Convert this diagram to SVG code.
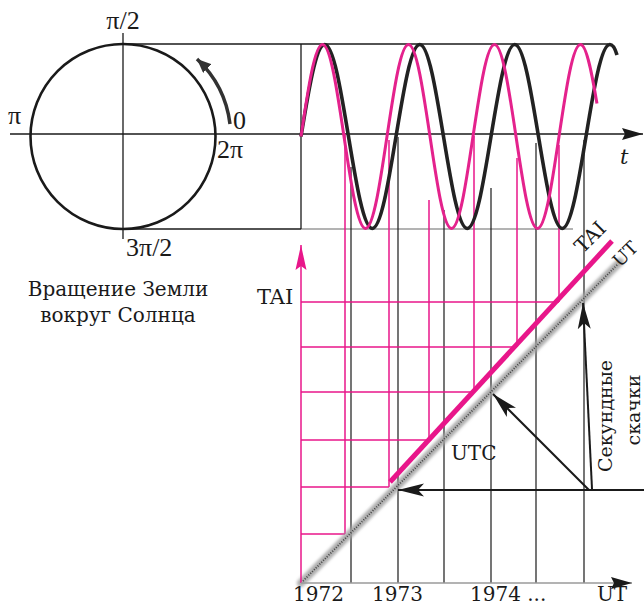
<svg xmlns="http://www.w3.org/2000/svg" width="644" height="607" viewBox="0 0 644 607">
<style>
.t{font-family:"DejaVu Serif","Liberation Serif",serif;font-size:20px;fill:#1a1a1a}
.p{font-family:"Liberation Serif","DejaVu Serif",serif;font-size:26px;fill:#1a1a1a}
.ax{stroke:#1a1a1a;stroke-width:1.3;fill:none}
.gl{stroke:#1a1a1a;stroke-width:1.2;fill:none}
.pk{stroke:#e8168a;stroke-width:1.5;fill:none}
.gr{stroke:#9a9a9a;stroke-width:1.6;fill:none}
</style>
<defs>
<filter id="blur" x="-10%" y="-10%" width="120%" height="120%"><feGaussianBlur stdDeviation="0.7"/></filter>
<filter id="blur2" x="-10%" y="-10%" width="120%" height="120%"><feGaussianBlur stdDeviation="1.8"/></filter>
<marker id="ah" markerUnits="userSpaceOnUse" markerWidth="28" markerHeight="14" refX="26" refY="7" orient="auto"><path d="M0,0.5 L26,7 L0,13.5 L6,7 z" fill="#1a1a1a"/></marker>
<marker id="ahs" markerUnits="userSpaceOnUse" markerWidth="22" markerHeight="12" refX="21" refY="6" orient="auto"><path d="M0,0 L21,6 L0,12 L3,6 z" fill="#1a1a1a"/></marker>
<marker id="ahp" markerUnits="userSpaceOnUse" markerWidth="26" markerHeight="12" refX="25" refY="6" orient="auto"><path d="M0,0.5 L25,6 L0,11.5 L4,6 z" fill="#e8168a"/></marker>
<marker id="ahc" markerUnits="userSpaceOnUse" markerWidth="16" markerHeight="12" refX="14" refY="6" orient="auto"><path d="M0,0 L14,6 L0,12 z" fill="#333"/></marker>
</defs>

<!-- circle node -->
<g id="circle">
<circle cx="123" cy="136.5" r="92.5" fill="none" stroke="#1a1a1a" stroke-width="2.6"/>
<line class="ax" x1="123" y1="33" x2="123" y2="239"/>
<path d="M230,124 A107,107 0 0 0 197,59" fill="none" stroke="#333" stroke-width="3.5" filter="url(#blur)" marker-end="url(#ahc)"/>
<text class="p" x="123" y="29" text-anchor="middle">π/2</text>
<text class="p" x="8" y="124">π</text>
<text class="p" x="233" y="129">0</text>
<text class="p" x="217" y="158">2π</text>
<text class="p" x="126" y="256">3π/2</text>
<text class="t" x="118" y="296" text-anchor="middle">Вращение Земли</text>
<text class="t" x="118" y="322" text-anchor="middle">вокруг Солнца</text>
</g>

<!-- frame lines of wave area -->
<g id="frame">
<line class="ax" x1="123" y1="44" x2="608" y2="44"/>
<line class="ax" x1="123" y1="229" x2="301" y2="229"/>
<line class="gr" x1="301" y1="229" x2="573" y2="229"/>
<line class="ax" x1="301" y1="44" x2="301" y2="229"/>
<line class="ax" x1="10" y1="134" x2="643" y2="134" marker-end="url(#ahs)"/>
<text x="620" y="164" style="font-family:'DejaVu Serif',serif;font-style:italic;font-size:21px;fill:#1a1a1a">t</text>
</g>

<!-- grid -->
<g id="grid">
<g class="gl">
<line x1="351" y1="167" x2="351" y2="583"/>
<line x1="398" y1="137" x2="398" y2="583"/>
<line x1="444" y1="210" x2="444" y2="583"/>
<line x1="491" y1="188" x2="491" y2="583"/>
<line x1="536" y1="143" x2="536" y2="583"/>
<line x1="584" y1="140" x2="584" y2="583"/>
</g>
<g class="pk">
<line x1="345" y1="134" x2="345" y2="534"/>
<line x1="389" y1="140" x2="389" y2="487"/>
<line x1="429" y1="200" x2="429" y2="440"/>
<line x1="474" y1="136" x2="474" y2="392"/>
<line x1="517" y1="158" x2="517" y2="347"/>
<line x1="559" y1="145" x2="559" y2="302"/>
<line x1="301" y1="534" x2="345" y2="534"/>
<line x1="301" y1="487" x2="389" y2="487"/>
<line x1="301" y1="440" x2="429" y2="440"/>
<line x1="301" y1="392" x2="474" y2="392"/>
<line x1="301" y1="347" x2="517" y2="347"/>
<line x1="301" y1="302" x2="559" y2="302"/>
</g>
</g>

<!-- waves -->
<g id="waves" filter="url(#blur)">
<path fill="none" stroke="#222" stroke-width="3.6" d="M301,136.5 C308.75,89.37 316.16,44.5 324.75,44.5 C333.35,44.5 340.76,89.37 348.5,136.5 C356.25,183.63 363.66,228.5 372.25,228.5 C380.85,228.5 388.26,183.63 396,136.5 C403.75,89.37 411.16,44.5 419.75,44.5 C428.35,44.5 435.76,89.37 443.5,136.5 C451.25,183.63 458.66,228.5 467.25,228.5 C475.85,228.5 483.26,183.63 491,136.5 C498.75,89.37 506.16,44.5 514.75,44.5 C523.35,44.5 530.76,89.37 538.5,136.5 C546.25,183.63 553.66,228.5 562.25,228.5 C570.85,228.5 578.26,183.63 586,136.5 C593.75,89.37 601.16,44.5 609.75,44.5 C612.5,44.5 615,48 617,55"/>
<path fill="none" stroke="#e4208c" stroke-width="3" d="M301,136.5 C308.01,89.37 314.72,44.5 322.5,44.5 C330.28,44.5 336.99,89.37 344,136.5 C351.01,183.63 357.72,228.5 365.5,228.5 C373.28,228.5 379.99,183.63 387,136.5 C394.01,89.37 400.72,44.5 408.5,44.5 C416.28,44.5 422.99,89.37 430,136.5 C437.01,183.63 443.72,228.5 451.5,228.5 C459.28,228.5 465.99,183.63 473,136.5 C480.01,89.37 486.72,44.5 494.5,44.5 C502.28,44.5 508.99,89.37 516,136.5 C523.01,183.63 529.72,228.5 537.5,228.5 C545.28,228.5 551.99,183.63 559,136.5 C566.01,89.37 572.72,44.5 580.5,44.5 C587,44.5 593,80 597,103.6"/>
</g>

<!-- time lines -->
<g id="ut-line">
<line x1="301" y1="583" x2="620" y2="262" stroke="#a0a0a0" stroke-width="8" stroke-linecap="round" opacity="0.85" filter="url(#blur2)"/>
<line x1="303" y1="581" x2="618" y2="264" stroke="#444" stroke-width="1.8" stroke-dasharray="1 1.6"/>
</g>
<g id="tai-line">
<line x1="390" y1="482" x2="612" y2="241" stroke="#e8168a" stroke-width="5"/>
</g>

<!-- axes -->
<g id="axes">
<line x1="301" y1="583" x2="301" y2="245" stroke="#e8168a" stroke-width="1.5" marker-end="url(#ahp)"/>
<line class="gr" x1="301" y1="583" x2="632" y2="583" marker-end="url(#ahs)"/>
</g>

<!-- connectors -->
<g id="connectors">
<line x1="644" y1="490" x2="398" y2="490" stroke="#1a1a1a" stroke-width="2" marker-end="url(#ah)"/>
<line x1="589" y1="490" x2="493" y2="394" stroke="#1a1a1a" stroke-width="2" marker-end="url(#ah)"/>
<line x1="592" y1="489" x2="583" y2="303" stroke="#1a1a1a" stroke-width="2" marker-end="url(#ah)"/>
<line x1="423" y1="468" x2="482" y2="468" stroke="#a8a8a8" stroke-width="2" filter="url(#blur)"/>
</g>

<!-- labels -->
<g id="labels">
<text class="t" x="257" y="304" style="font-size:21px">TAI</text>
<text class="t" x="451" y="460" style="font-size:20px">UTC</text>
<text class="t" transform="translate(595,242) rotate(-45)" text-anchor="middle">TAI</text>
<text class="t" transform="translate(620,268) rotate(-45)" style="font-size:18px">UT</text>
<text class="t" transform="translate(612,416) rotate(-90)" text-anchor="middle" style="font-size:19px">Секундные</text>
<text class="t" transform="translate(640,410) rotate(-90)" text-anchor="middle" style="font-size:19px">скачки</text>
<text class="t" x="293" y="601" style="font-size:20px">1972</text>
<text class="t" x="372" y="601" style="font-size:20px">1973</text>
<text class="t" x="470" y="601" style="font-size:20px">1974 ...</text>
<text class="t" x="597" y="601" style="font-size:20px">UT</text>
</g>
</svg>
